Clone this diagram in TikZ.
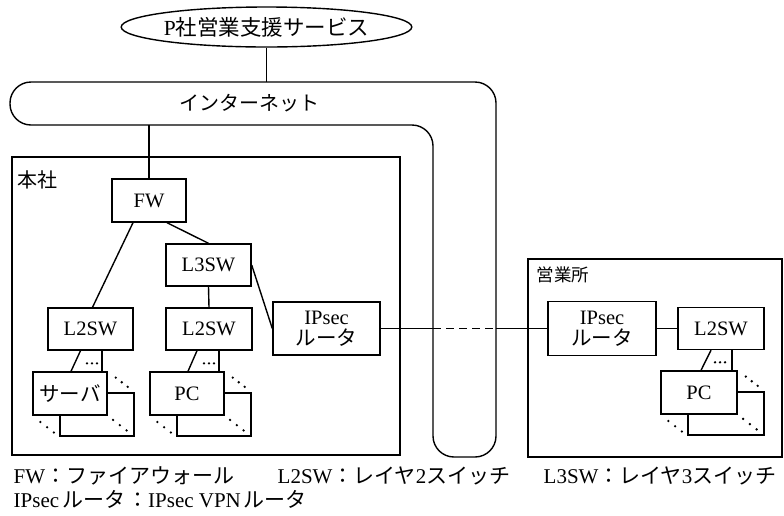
\documentclass[tikz,border=0pt]{standalone}
\usepackage{fontspec}
\setmainfont{Liberation Serif}
\newfontfamily\jp{Noto Sans CJK JP}
\usetikzlibrary{shapes.geometric,calc}
\begin{document}
\begin{tikzpicture}[x=1pt,y=-1pt,line width=1.4pt,
  box/.style={draw,fill=white,inner sep=0pt,align=center,font=\fontsize{20.5}{21}\selectfont},
  area/.style={draw,inner sep=0pt},
  lbl/.style={inner sep=0pt,anchor=west,font=\fontsize{21}{22}\selectfont}]
\useasboundingbox (0,0) rectangle (784,515);

% service ellipse
\node[draw,ellipse,minimum width=249pt,minimum height=40pt,inner sep=0pt,font=\fontsize{21.5}{22}\selectfont] (svc) at (266.5,27) {P{\jp 社営業支援サービス}};

% internet
\draw[rounded corners=21pt] (200,82) -- (496,82) -- (496,457) -- (433,457) -- (433,125) -- (10,125) -- (10,82) -- cycle;
\node[inner sep=0pt,font=\fontsize{20}{21}\selectfont] (inet) at (249,103.5) {\jp インターネット};
\coordinate (inetTop) at (266.5,82);
\coordinate (inetBot) at (149,125);
\draw (svc.south) -- (inetTop);

% areas
\node[area,minimum width=388pt,minimum height=298pt] (hq) at (206,306) {};
\node[lbl,font=\fontsize{20}{21}\selectfont] (hqlbl) at (17,180) {\jp 本社};
\node[area,minimum width=254pt,minimum height=198pt] (br) at (655,358) {};
\node[lbl,font=\fontsize{17.5}{19}\selectfont] (brlbl) at (536,275) {\jp 営業所};

% HQ devices
\node[box,minimum width=74pt,minimum height=43pt] (fw) at (149,200.5) {FW};
\node[box,minimum width=85pt,minimum height=42pt] (l3) at (208.5,265) {L3SW};
\node[box,minimum width=85pt,minimum height=42pt] (l2a) at (90.5,329) {L2SW};
\node[box,minimum width=86pt,minimum height=42pt] (l2b) at (209,329) {L2SW};
\node[box,minimum width=107pt,minimum height=53pt] (ipa) at (326.5,328.5) {IPsec\\{\jp ルータ}};

\node[box,minimum width=74pt,minimum height=43pt] (srvB) at (97,414.5) {};
\node[box,minimum width=74pt,minimum height=43pt] (srv) at (70,393.5) {\jp サーバ};
\node[box,minimum width=74pt,minimum height=43pt] (pcaB) at (214,414.5) {};
\node[box,minimum width=74pt,minimum height=43pt] (pca) at (187,393.5) {PC};

% branch devices
\node[box,minimum width=108pt,minimum height=54pt] (ipb) at (602,328.5) {IPsec\\{\jp ルータ}};
\node[box,minimum width=86pt,minimum height=42pt] (l2c) at (721,328.5) {L2SW};
\node[box,minimum width=76pt,minimum height=43pt] (pcbB) at (726,413.5) {};
\node[box,minimum width=76pt,minimum height=43pt] (pcb) at (699,392.5) {PC};

% connectors
\draw (inetBot) -- (fw.north);
\draw ([xshift=18pt]fw.south) -- (l3.north);
\draw ([xshift=-16pt]fw.south) -- ([xshift=2pt]l2a.north);
\draw (l3.south) -- (l2b.north);
\draw (l3.east) -- (ipa.west);

\draw ([xshift=-10pt]l2a.south) -- ([xshift=1pt]srv.north);
\draw ($(srv.north)+(32,0)$) -- ($(srv.north |- l2a.south)+(32,0)$);
\draw ([xshift=-12pt]l2b.south) -- ([xshift=1pt]pca.north);
\draw ($(pca.north)+(32,0)$) -- ($(pca.north |- l2b.south)+(32,0)$);
\draw ([xshift=-10pt]l2c.south) -- ([xshift=2pt]pcb.north);
\draw ($(pcb.north)+(33,0)$) -- ($(pcb.north |- l2c.south)+(33,0)$);

\coordinate (tIn) at (433,328.5);
\coordinate (tOut) at (496,328.5);
\draw (ipa.east) -- (tIn);
\draw[dash pattern=on 8pt off 5pt] (tIn) -- (tOut);
\draw (tOut) -- (ipb.west);
\draw (ipb.east) -- (l2c.west);

% ellipsis dots
\foreach \a/\b in {srv/srvB,pca/pcaB,pcb/pcbB}{
  \foreach \t in {0.3,0.52,0.74} \fill ($(\a.north east)!\t!(\b.north east)$) circle (1.3pt);
  \foreach \t in {0.3,0.55,0.8} \fill ($(\a.south west)!\t!(\b.south west)$) circle (1.3pt);
  \foreach \t in {0.2,0.45,0.7} \fill ($(\a.south east)!\t!(\b.south east)$) circle (1.3pt);
}
\foreach \dx in {17,22,27} \fill ($(srv.north)+(\dx,-8)$) circle (1.3pt);
\foreach \dx in {17,22,27} \fill ($(pca.north)+(\dx,-8)$) circle (1.3pt);
\foreach \dx in {16,21,26} \fill ($(pcb.north)+(\dx,-8)$) circle (1.3pt);

% legend
\node[lbl] (lg1) at (13,476) {FW{\jp ：ファイアウォール}};
\node[lbl] (lg2) at (277,476) {L2SW{\jp ：レイヤ}2{\jp スイッチ}};
\node[lbl] (lg3) at (543,476) {L3SW{\jp ：レイヤ}3{\jp スイッチ}};
\node[lbl] (lg4) at (13,499) {IPsec\hspace{3pt}{\jp ルータ\hspace{2pt}：}IPsec VPN\hspace{3pt}{\jp ルータ}};
\end{tikzpicture}
\end{document}
